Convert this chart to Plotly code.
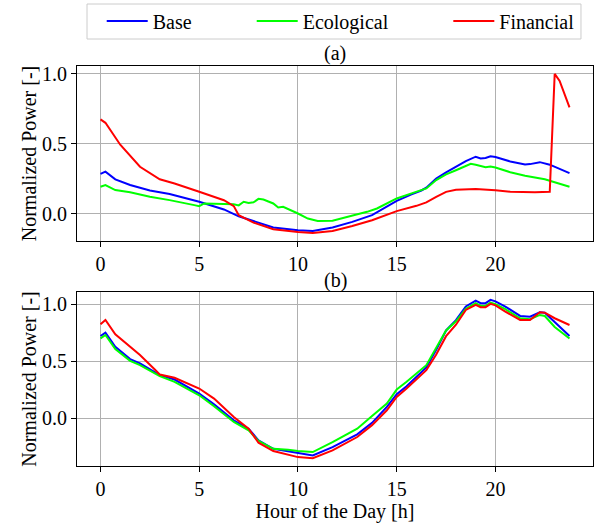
import plotly.graph_objects as go

# ---------------- data (hours of day, normalized power) ----------------
# Panel (a)
a_base_h = [0, 0.25, 0.75, 1.5, 2.5, 3.5, 5.0, 6.25, 7.0, 7.75, 8.75, 10.0, 10.75, 11.75,
            12.75, 13.75, 14.25, 15.0, 15.75, 16.25, 16.5, 17.0, 17.5, 18.0, 18.5, 19.0,
            19.25, 19.5, 19.75, 20.0, 20.75, 21.5, 21.75, 22.25, 22.5, 22.75, 23.75]
a_base_v = [0.284, 0.30, 0.245, 0.204, 0.165, 0.14, 0.084, 0.029, -0.02, -0.055, -0.10, -0.12,
            -0.126, -0.10, -0.06, -0.012, 0.03, 0.091, 0.137, 0.165, 0.185, 0.25, 0.295, 0.335,
            0.375, 0.407, 0.395, 0.398, 0.41, 0.405, 0.373, 0.351, 0.354, 0.368, 0.36, 0.35, 0.289]

a_eco_h = [0, 0.25, 0.75, 1.5, 2.5, 3.5, 4.75, 5.0, 5.25, 6.0, 6.75, 7.0, 7.25, 7.5, 7.75, 8.0,
           8.25, 8.75, 9.0, 9.25, 9.75, 10.0, 10.5, 11.0, 11.75, 12.5, 13.5, 14.0, 14.5, 15.0,
           15.75, 16.25, 16.5, 17.0, 17.5, 18.0, 18.75, 19.0, 19.5, 19.75, 20.0, 20.75, 21.5,
           22.5, 23.75]
a_eco_v = [0.192, 0.204, 0.168, 0.152, 0.12, 0.096, 0.06, 0.053, 0.072, 0.072, 0.067, 0.058,
           0.084, 0.075, 0.08, 0.105, 0.10, 0.072, 0.043, 0.048, 0.019, 0.0, -0.036, -0.053,
           -0.051, -0.024, 0.012, 0.036, 0.072, 0.108, 0.144, 0.165, 0.18, 0.24, 0.28, 0.31,
           0.356, 0.35, 0.332, 0.337, 0.33, 0.296, 0.27, 0.246, 0.192]

a_fin_h = [0, 0.25, 1.0, 1.5, 2.0, 3.0, 3.75, 5.0, 6.25, 6.75, 7.0, 7.75, 8.75, 10.0, 10.75,
           11.75, 12.75, 13.75, 14.25, 15.0, 16.0, 16.5, 17.0, 17.5, 18.0, 19.0, 20.0, 20.75,
           22.0, 22.75, 23.0, 23.25, 23.75]
a_fin_v = [0.674, 0.65, 0.493, 0.41, 0.335, 0.245, 0.215, 0.156, 0.095, 0.053, -0.012, -0.065,
           -0.113, -0.133, -0.14, -0.126, -0.09, -0.048, -0.02, 0.017, 0.055, 0.08, 0.12, 0.155,
           0.17, 0.175, 0.166, 0.156, 0.152, 0.156, 1.0, 0.95, 0.76]

# Panel (b)
b_base_h = [0, 0.25, 0.75, 1.5, 2.0, 3.0, 3.75, 5.0, 5.75, 6.75, 7.5, 8.0, 8.75, 9.5, 10.0,
            10.75, 11.75, 13.0, 13.75, 14.5, 15.0, 15.5, 16.5, 17.0, 17.5, 18.0, 18.5, 19.0,
            19.25, 19.5, 19.75, 20.0, 20.5, 21.25, 21.75, 22.25, 22.5, 23.0, 23.75]
b_base_v = [0.721, 0.75, 0.627, 0.519, 0.481, 0.378, 0.34, 0.217, 0.123, -0.018, -0.091,
            -0.193, -0.267, -0.287, -0.305, -0.325, -0.252, -0.141, -0.04, 0.10, 0.211, 0.281,
            0.446, 0.60, 0.77, 0.86, 0.98, 1.032, 1.009, 1.009, 1.038, 1.025, 0.979, 0.897,
            0.891, 0.929, 0.926, 0.845, 0.721]

b_eco_h = b_base_h
b_eco_v = [0.70, 0.73, 0.607, 0.504, 0.466, 0.37, 0.32, 0.202, 0.106, -0.032, -0.106, -0.199,
           -0.267, -0.275, -0.287, -0.296, -0.208, -0.091, 0.02, 0.13, 0.252, 0.32, 0.466,
           0.62, 0.77, 0.85, 0.96, 1.009, 0.985, 0.985, 1.014, 1.0, 0.956, 0.877, 0.868,
           0.906, 0.897, 0.80, 0.70]

b_fin_h = [0, 0.25, 0.75, 1.75, 2.0, 2.75, 3.0, 3.75, 5.0, 5.75, 6.75, 7.5, 8.0, 8.75, 9.5,
           10.0, 10.75, 11.75, 13.0, 13.75, 14.5, 15.0, 15.5, 16.5, 17.0, 17.5, 18.0, 18.5,
           19.0, 19.25, 19.5, 19.75, 20.0, 20.5, 21.25, 21.75, 22.25, 22.5, 23.0, 23.75]
b_fin_v = [0.824, 0.862, 0.736, 0.592, 0.554, 0.428, 0.384, 0.355, 0.261, 0.173, 0.012,
           -0.091, -0.214, -0.287, -0.317, -0.34, -0.349, -0.281, -0.164, -0.06, 0.07, 0.187,
           0.261, 0.422, 0.56, 0.72, 0.82, 0.95, 0.994, 0.974, 0.974, 1.003, 0.99, 0.935,
           0.862, 0.862, 0.929, 0.926, 0.877, 0.818]

series_names = ["Base", "Ecological", "Financial"]
series_colors = ["#0000ff", "#00ff00", "#ff0000"]
x_ticks = [0, 5, 10, 15, 20]
y_ticks = [0.0, 0.5, 1.0]
y_ticklabels = ["0.0", "0.5", "1.0"]
panel_labels = ["(a)", "(b)"]
x_label = "Hour of the Day [h]"
y_label = "Normalized Power [-]"

FONT = "Liberation Serif, Times New Roman, serif"
legend_ids = ["legend", "legend2", "legend3"]
legend_x = [0.0479, 0.3386, 0.7196]

fig = go.Figure()
top = [(a_base_h, a_base_v), (a_eco_h, a_eco_v), (a_fin_h, a_fin_v)]
bot = [(b_base_h, b_base_v), (b_eco_h, b_eco_v), (b_fin_h, b_fin_v)]
for i, (h, v) in enumerate(top):
    fig.add_trace(go.Scatter(x=h, y=v, mode="lines", name=series_names[i],
                             line=dict(color=series_colors[i], width=2),
                             legend=legend_ids[i],
                             xaxis="x", yaxis="y", showlegend=True))
for i, (h, v) in enumerate(bot):
    fig.add_trace(go.Scatter(x=h, y=v, mode="lines", name=series_names[i],
                             line=dict(color=series_colors[i], width=2),
                             xaxis="x2", yaxis="y2", showlegend=False))

axis_common = dict(showline=True, linecolor="black", linewidth=1, mirror=True,
                   ticks="outside", ticklen=5, tickcolor="black", tickwidth=1,
                   showgrid=True, gridcolor="#b0b0b0", gridwidth=1, zeroline=False,
                   automargin=False,
                   tickfont=dict(family=FONT, size=20, color="black"))

legend_common = dict(orientation="h", xanchor="left", y=1.1125, yanchor="middle",
                     bgcolor="rgba(0,0,0,0)", borderwidth=0, itemwidth=41,
                     font=dict(family=FONT, size=20, color="black"))

fig.update_layout(
    width=595, height=523,
    margin=dict(l=77, r=2, t=66, b=57),
    plot_bgcolor="white", paper_bgcolor="white",
    font=dict(family=FONT, size=20, color="black"),
    xaxis=dict(domain=[0, 1], anchor="y", range=[-1.19, 24.94], tickvals=x_ticks, **axis_common),
    yaxis=dict(domain=[0.5625, 1.0], anchor="x", range=[-0.197, 1.057], tickvals=y_ticks,
               ticktext=y_ticklabels,
               title=dict(text=y_label, font=dict(family=FONT, size=20), standoff=0),
               **axis_common),
    xaxis2=dict(domain=[0, 1], anchor="y2", range=[-1.19, 24.94], tickvals=x_ticks,
                title=dict(text=x_label, font=dict(family=FONT, size=20), standoff=4),
                **axis_common),
    yaxis2=dict(domain=[0, 0.435], anchor="x2", range=[-0.418, 1.107], tickvals=y_ticks,
                ticktext=y_ticklabels,
                title=dict(text=y_label, font=dict(family=FONT, size=20), standoff=0),
                **axis_common),
    legend=dict(x=legend_x[0], **legend_common),
    legend2=dict(x=legend_x[1], **legend_common),
    legend3=dict(x=legend_x[2], **legend_common),
    shapes=[dict(type="rect", xref="paper", yref="paper", x0=0.0194, x1=0.9767,
                 y0=1.0675, y1=1.155, line=dict(color="#cccccc", width=1),
                 fillcolor="rgba(255,255,255,0.8)", layer="below")],
    annotations=[
        dict(text=panel_labels[0], xref="paper", yref="paper", x=0.5, y=1.03,
             showarrow=False, xanchor="center", yanchor="middle",
             font=dict(family=FONT, size=20, color="black")),
        dict(text=panel_labels[1], xref="paper", yref="paper", x=0.5, y=0.465,
             showarrow=False, xanchor="center", yanchor="middle",
             font=dict(family=FONT, size=20, color="black")),
    ],
)

fig.write_html("out.html", config={"displayModeBar": False},
               post_script="document.body.style.margin='0px';")
